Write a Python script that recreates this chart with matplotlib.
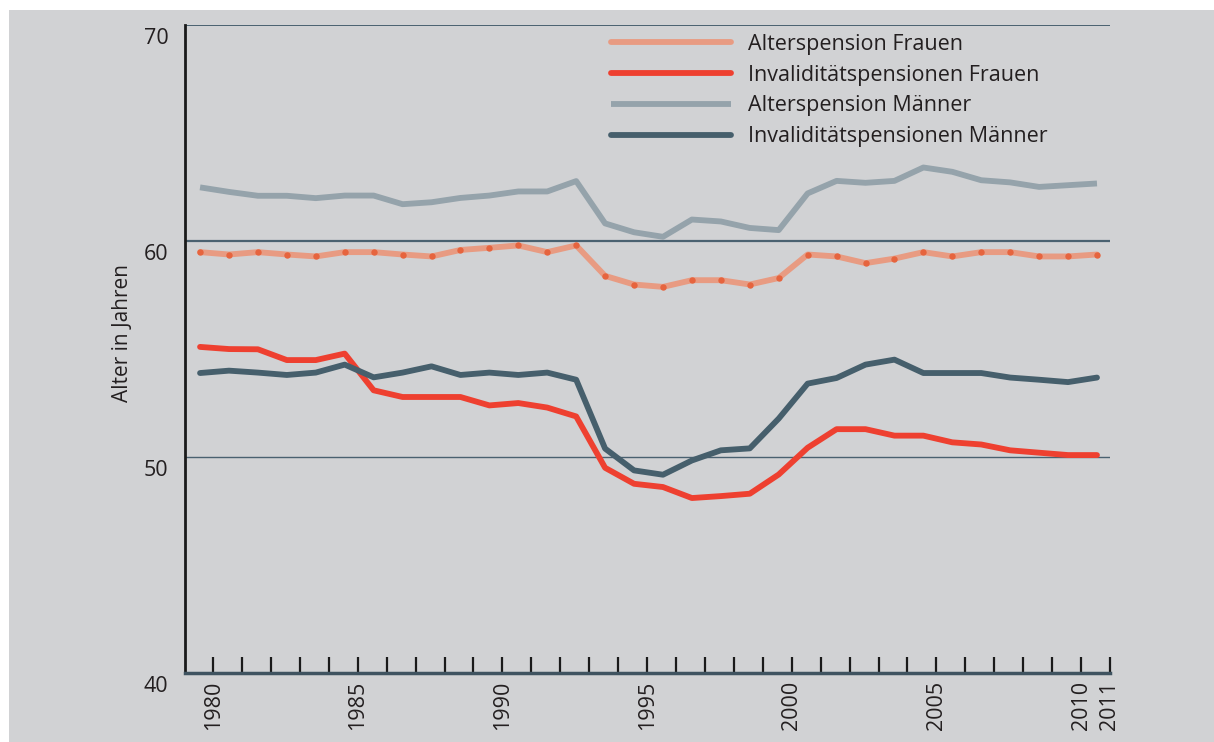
import numpy as np
import matplotlib
matplotlib.use("Agg")
import matplotlib.pyplot as plt
import matplotlib.transforms as mtransforms
from matplotlib.patches import Rectangle

plt.rcParams['font.family'] = ['Open Sans', 'DejaVu Sans']

# Daten (Alter in Jahren), 1980-2011
jahre = np.arange(1980, 2012)
alters_frauen = [59.48, 59.37, 59.48, 59.37, 59.28, 59.48, 59.48, 59.37, 59.28, 59.58,
                 59.68, 59.79, 59.48, 59.79, 58.38, 57.98, 57.87, 58.18, 58.18, 57.98,
                 58.28, 59.37, 59.28, 58.97, 59.18, 59.48, 59.28, 59.48, 59.48, 59.28,
                 59.28, 59.37]
inval_frauen = [55.09, 54.99, 54.98, 54.48, 54.48, 54.78, 53.08, 52.77, 52.77, 52.77,
                52.38, 52.49, 52.28, 51.87, 49.49, 48.75, 48.60, 48.09, 48.18, 48.29,
                49.18, 50.42, 51.28, 51.28, 50.98, 50.98, 50.67, 50.57, 50.30, 50.19,
                50.08, 50.08]
alters_maenner = [62.48, 62.27, 62.09, 62.09, 61.98, 62.10, 62.10, 61.70, 61.79, 61.99,
                  62.10, 62.29, 62.29, 62.77, 60.81, 60.40, 60.19, 60.99, 60.90, 60.60,
                  60.50, 62.20, 62.78, 62.69, 62.78, 63.40, 63.20, 62.81, 62.71, 62.50,
                  62.58, 62.66]
inval_maenner = [53.88, 53.99, 53.90, 53.79, 53.90, 54.27, 53.68, 53.90, 54.19, 53.79,
                 53.90, 53.79, 53.90, 53.57, 50.38, 49.37, 49.17, 49.83, 50.30, 50.39,
                 51.77, 53.39, 53.65, 54.27, 54.50, 53.88, 53.88, 53.88, 53.67, 53.57,
                 53.46, 53.67]
tick_labels = ['1980', '1985', '1990', '1995', '2000', '2005', '2010', '2011']

W, H = 1214, 742
fig = plt.figure(figsize=(W / 100, H / 100), dpi=100, facecolor='white')
# grauer Hintergrund
fig.patches.append(Rectangle((9 / W, 0), 1, (H - 10) / H, transform=fig.transFigure,
                             facecolor='#d1d2d4', edgecolor='none', zorder=-10))

ax = fig.add_axes([185 / W, (H - 672.7) / H, (1110 - 185) / W, (672.7 - 25) / H])
ax.set_facecolor('none')
ax.set_zorder(2)

ax.plot(jahre, alters_frauen, color='#e89b82', lw=4.2, solid_capstyle='round',
        label='Alterspension Frauen', zorder=3)
ax.plot(jahre, alters_frauen, 'o', color='#e6643e', ms=3.6, zorder=4)
ax.plot(jahre, inval_frauen, color='#ee4030', lw=4.2, solid_capstyle='round',
        label='Invaliditätspensionen Frauen', zorder=3)
ax.plot(jahre, alters_maenner, color='#95a3ab', lw=4.2, solid_capstyle='butt',
        label='Alterspension Männer', zorder=3)
ax.plot(jahre, inval_maenner, color='#465f6c', lw=4.2, solid_capstyle='round',
        label='Invaliditätspensionen Männer', zorder=3)

ax.set_xlim(1979.48, 2011.45)
ax.set_ylim(40, 70)

# Gitterlinien
for yv, lw in [(50, 1.0), (60, 1.6), (70, 1.4)]:
    ax.axhline(yv, color='#4a6170', lw=lw, zorder=1)

# Achsen
for s in ['top', 'right']:
    ax.spines[s].set_visible(False)
ax.spines['left'].set_color('#1a1a1a')
ax.spines['left'].set_linewidth(2)
ax.spines['bottom'].set_color('#3f5360')
ax.spines['bottom'].set_linewidth(2.5)

ax.set_xticks(jahre + 0.45)
ax.set_xticklabels([str(j) if str(j) in tick_labels else '' for j in jahre],
                   rotation=90, fontsize=15.5, color='#231f20')
ax.tick_params(axis='x', direction='in', length=11.5, width=1.6, color='#1a1a1a', pad=6)

ax.set_yticks([40, 50, 60, 70])
ax.set_yticklabels(['40', '50', '60', '70'], fontsize=15.5, color='#231f20')
ax.tick_params(axis='y', length=0, pad=12)
off = mtransforms.ScaledTranslation(0, -11 / 100, fig.dpi_scale_trans)
for lab in ax.get_yticklabels():
    lab.set_transform(lab.get_transform() + off)

fig.text(123 / W, 1 - 333 / H, 'Alter in Jahren', rotation=90, fontsize=15,
         color='#231f20', ha='center', va='center')

leg = ax.legend(loc='upper left', bbox_to_anchor=(611 / W, 1 - 34 / H),
                bbox_transform=fig.transFigure, frameon=False, fontsize=15.5,
                handlelength=5.58, handletextpad=0.79, labelspacing=0.45,
                borderpad=0, borderaxespad=0)
for t in leg.get_texts():
    t.set_color('#231f20')

fig.savefig('out.png', dpi=100, facecolor='white')
